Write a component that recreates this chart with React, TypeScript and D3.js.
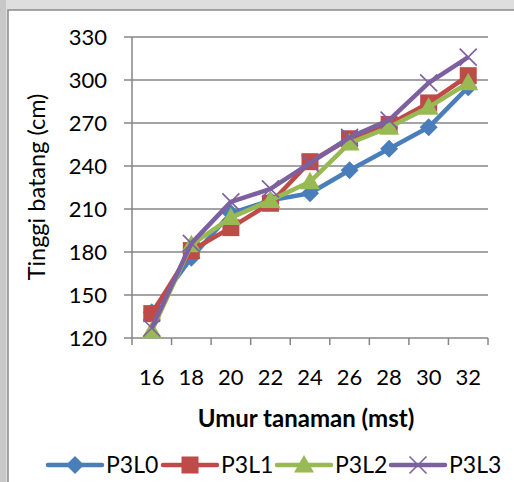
import React from "react";
import * as d3 from "d3";

const categories = ["16", "18", "20", "22", "24", "26", "28", "30", "32"];
const yTicks = [120, 150, 180, 210, 240, 270, 300, 330];
const P3L0 = [138, 176, 207, 216, 221, 237, 252, 267, 295];
const P3L1 = [137, 181, 197, 214, 243, 259, 269, 284, 303];
const P3L2 = [125, 185, 204, 216, 229, 256, 267, 281, 298];
const P3L3 = [127, 186, 215, 224, 242, 260, 272, 298, 316];
const seriesNames = ["P3L0", "P3L1", "P3L2", "P3L3"];
const seriesValues = [P3L0, P3L1, P3L2, P3L3];
const colors = ["#4A7EBB", "#BE4B48", "#98B954", "#7D60A0"];
const markers = ["diamond", "square", "triangle", "x"];

const W = 514;
const H = 482;
const FONT = "Lato, 'Open Sans', sans-serif";

function Marker({ type, x, y, color }: { type: string; x: number; y: number; color: string }) {
  if (type === "diamond") {
    const s = 9;
    return <path d={`M${x},${y - s}L${x + s},${y}L${x},${y + s}L${x - s},${y}Z`} fill={color} />;
  }
  if (type === "square") {
    const s = 8.5;
    return <rect x={x - s} y={y - s} width={2 * s} height={2 * s} fill={color} />;
  }
  if (type === "triangle") {
    const s = 10;
    return <path d={`M${x},${y - s}L${x + s},${y + s * 0.75}L${x - s},${y + s * 0.75}Z`} fill={color} />;
  }
  const s = 8.5;
  return (
    <path
      d={`M${x - s},${y - s}L${x + s},${y + s}M${x - s},${y + s}L${x + s},${y - s}`}
      stroke={color}
      strokeWidth={1.6}
      fill="none"
    />
  );
}

export default function App() {
  const x = d3.scaleBand<string>().domain(categories).range([132, 488]);
  const y = d3.scaleLinear().domain([120, 330]).range([338, 37]);
  const line = d3
    .line<number>()
    .x((_, i) => (x(categories[i]) as number) + x.bandwidth() / 2)
    .y((d) => y(d));
  const boundaries = categories.map((c) => x(c) as number).concat([488]);

  const legendX = [48, 163, 277, 391];

  return (
    <svg
      width={W}
      height={H}
      style={{ position: "absolute", left: 0, top: 0, display: "block" }}
      fontFamily={FONT}
    >
      <rect x={0} y={0} width={W} height={H} fill="#dedede" />
      <rect x={0} y={0} width={6} height={H} fill="#c8c8c8" />
      <rect x={8} y={10} width={W} height={H} fill="#ffffff" stroke="#8a8a8a" strokeWidth={1.5} />

      {yTicks.map((t) => (
        <g key={t}>
          <line x1={124} x2={488} y1={y(t)} y2={y(t)} stroke="#868686" strokeWidth={1.5} />
          <text x={107} y={y(t)} dy="0.36em" textAnchor="end" fontSize={22} fill="#000">
            {t}
          </text>
        </g>
      ))}
      <line x1={132} x2={132} y1={37} y2={338} stroke="#868686" strokeWidth={1.5} />
      {boundaries.map((b, i) => (
        <line key={i} x1={b} x2={b} y1={338} y2={345} stroke="#868686" strokeWidth={1.5} />
      ))}
      {categories.map((c) => (
        <text
          key={c}
          x={(x(c) as number) + x.bandwidth() / 2}
          y={385}
          textAnchor="middle"
          fontSize={22}
          fill="#000"
        >
          {c}
        </text>
      ))}

      {seriesValues.map((vals, si) => (
        <g key={si}>
          <path d={line(vals) as string} fill="none" stroke={colors[si]} strokeWidth={4.5} strokeLinejoin="round" />
          {vals.map((v, i) => (
            <Marker
              key={i}
              type={markers[si]}
              x={(x(categories[i]) as number) + x.bandwidth() / 2}
              y={y(v)}
              color={colors[si]}
            />
          ))}
        </g>
      ))}

      <text
        transform={`translate(45,187) rotate(-90)`}
        textAnchor="middle"
        fontSize={23.5}
        fill="#000"
      >
        Tinggi batang (cm)
      </text>
      <text x={306} y={427} textAnchor="middle" fontSize={24} fontWeight="bold" fill="#000">
        Umur tanaman (mst)
      </text>

      {seriesNames.map((n, i) => (
        <g key={n}>
          <line x1={legendX[i]} x2={legendX[i] + 54} y1={465} y2={465} stroke={colors[i]} strokeWidth={4.5} strokeLinecap="round" />
          <Marker type={markers[i]} x={legendX[i] + 27} y={465} color={colors[i]} />
          <text x={legendX[i] + 58} y={465} dy="0.36em" fontSize={23} fill="#000">
            {n}
          </text>
        </g>
      ))}
    </svg>
  );
}
